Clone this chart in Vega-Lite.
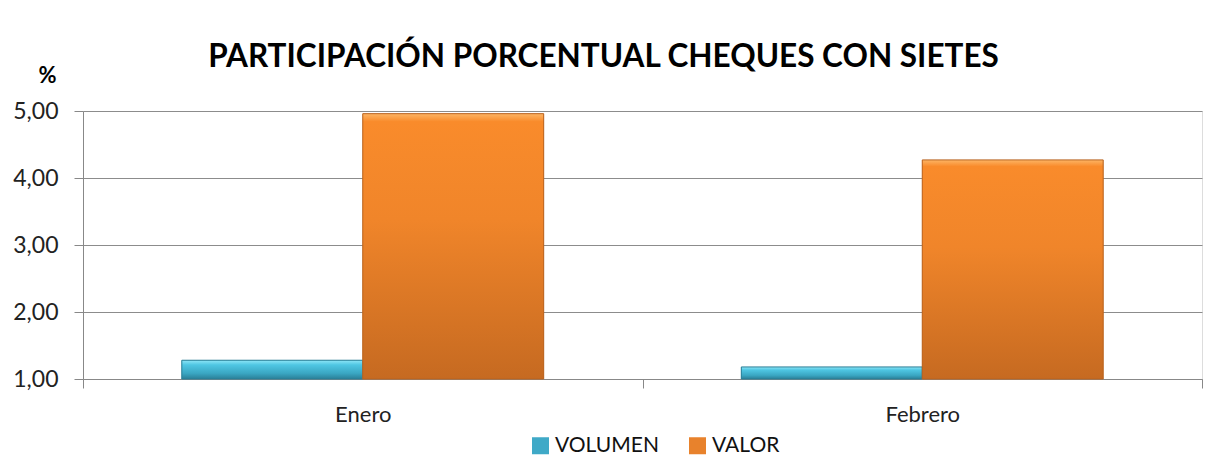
{
  "$schema": "https://vega.github.io/schema/vega-lite/v6.json",
  "width": 1119,
  "height": 268,
  "autosize": "none",
  "padding": {"left": 83, "top": 111, "right": 12, "bottom": 79},
  "background": "white",
  "title": {
    "text": "PARTICIPACIÓN PORCENTUAL CHEQUES CON SIETES",
    "font": "Lato",
    "fontSize": 31.5,
    "fontWeight": "bold",
    "color": "#000000",
    "anchor": "middle",
    "frame": "group",
    "dx": -39,
    "dy": 13
  },
  "data": {
    "values": [
      {"mes": "Enero", "serie": "VOLUMEN", "valor": 1.28},
      {"mes": "Enero", "serie": "VALOR", "valor": 4.96},
      {"mes": "Febrero", "serie": "VOLUMEN", "valor": 1.18},
      {"mes": "Febrero", "serie": "VALOR", "valor": 4.27}
    ]
  },
  "encoding": {
    "x": {
      "field": "mes",
      "type": "nominal",
      "sort": ["Enero", "Febrero"],
      "scale": {"paddingInner": 0, "paddingOuter": 0},
      "axis": {
        "title": null,
        "labelAngle": 0,
        "tickBand": "extent",
        "tickSize": 9,
        "domainColor": "#888888",
        "tickColor": "#888888",
        "labelFont": "Lato",
        "labelFontSize": 22,
        "labelPadding": 16,
        "labelColor": "#222222",
        "grid": false
      }
    },
    "xOffset": {
      "field": "serie",
      "type": "nominal",
      "sort": ["VOLUMEN", "VALOR"],
      "scale": {"paddingInner": 0, "paddingOuter": 0.546}
    },
    "y": {
      "field": "valor",
      "type": "quantitative",
      "scale": {"domain": [1, 5], "zero": false, "nice": false},
      "axis": {
        "values": [1, 2, 3, 4, 5],
        "labelExpr": "replace(format(datum.value, '.2f'), '.', ',')",
        "title": "%",
        "titleAngle": 0,
        "titleX": -36,
        "titleY": -36,
        "titleAlign": "center",
        "titleBaseline": "middle",
        "titleFont": "Lato",
        "titleFontSize": 22,
        "titleFontWeight": "bold",
        "titleColor": "#000000",
        "labelFont": "Lato",
        "labelFontSize": 23,
        "labelColor": "#222222",
        "domainColor": "#888888",
        "tickColor": "#888888",
        "gridColor": "#8C8C8C",
        "gridOpacity": 1,
        "tickSize": 9,
        "labelPadding": 16
      }
    },
    "y2": {"datum": 1}
  },
  "layer": [
    {
      "mark": {"type": "bar"},
      "encoding": {
        "color": {
          "field": "serie",
          "type": "nominal",
          "sort": ["VOLUMEN", "VALOR"],
          "scale": {"range": ["#3FA9C7", "#E8822C"]},
          "legend": {
            "title": null,
            "orient": "none",
            "direction": "horizontal",
            "legendX": 447,
            "legendY": 324,
            "symbolType": "square",
            "symbolSize": 289,
            "symbolStrokeWidth": 0,
            "labelFont": "Lato",
            "labelFontSize": 21,
            "labelColor": "#111111",
            "labelOffset": 4,
            "columnPadding": 28
          }
        }
      }
    },
    {
      "transform": [{"filter": "datum.serie === 'VOLUMEN'"}],
      "mark": {
        "type": "bar",
        "stroke": "#2A7E96",
        "strokeWidth": 1,
        "fill": {
          "gradient": "linear",
          "x1": 0, "y1": 0, "x2": 0, "y2": 1,
          "stops": [
            {"offset": 0, "color": "#8FE6F7"},
            {"offset": 0.25, "color": "#4FC6E3"},
            {"offset": 0.7, "color": "#3AA6C2"},
            {"offset": 1, "color": "#2A7F98"}
          ]
        }
      }
    },
    {
      "transform": [{"filter": "datum.serie === 'VALOR'"}],
      "mark": {
        "type": "bar",
        "stroke": "#B9631F",
        "strokeWidth": 1,
        "fill": {
          "gradient": "linear",
          "x1": 0, "y1": 0, "x2": 0, "y2": 1,
          "stops": [
            {"offset": 0, "color": "#FDB565"},
            {"offset": 0.03, "color": "#F98B2B"},
            {"offset": 0.4, "color": "#F0852A"},
            {"offset": 1, "color": "#C66A21"}
          ]
        }
      }
    }
  ]
}
